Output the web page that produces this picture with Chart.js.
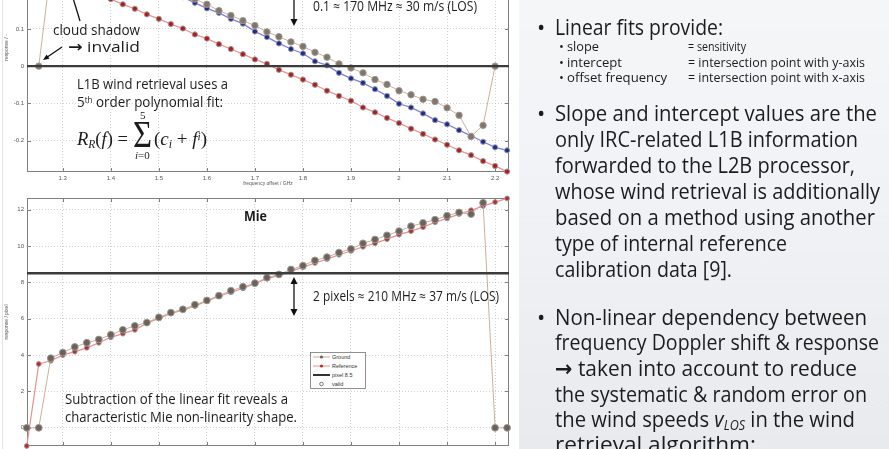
<!DOCTYPE html>
<html><head><meta charset="utf-8">
<script src="https://cdn.jsdelivr.net/npm/chart.js@4.4.1/dist/chart.umd.min.js"></script>
<style>
html,body{margin:0;padding:0;}
body{width:889px;height:449px;overflow:hidden;position:relative;background:#fff;font-family:'Open Sans',sans-serif;color:#1c1c1c;}
.t{position:absolute;white-space:nowrap;line-height:1;transform-origin:0 0;}
.t sup{font-size:0.6em;vertical-align:0.45em;line-height:0;}
.t sub{font-size:0.62em;vertical-align:-0.25em;line-height:0;}
.ar{font-family:'DejaVu Sans',sans-serif;font-weight:bold;}
#panel{position:absolute;left:519px;top:0;width:370px;height:449px;background:linear-gradient(180deg,#f5f6f8 0%,#f1f2f5 45%,#e9eaed 100%);}
canvas{position:absolute;left:0;}
svg{position:absolute;left:0;top:0;}
</style></head><body>
<div id="panel"></div>
<div style="position:absolute;left:2px;top:0;width:1px;height:449px;background:#e4e4e4"></div>
<canvas id="c1" width="514" height="272" style="top:-82px"></canvas>
<canvas id="c2" width="514" height="271" style="top:193px"></canvas>
<svg width="889" height="449">
  <g stroke="#111" stroke-width="1.3" fill="none">
    <line x1="294" y1="-2" x2="294" y2="21"/>
    <line x1="294" y1="281" x2="294" y2="312"/>
    <line x1="73" y1="-2" x2="80" y2="21"/>
    <line x1="62" y1="47" x2="47" y2="57.3"/>
  </g>
  <g fill="#111">
    <polygon points="290.5,19 297.5,19 294,26"/>
    <polygon points="290.5,284 297.5,284 294,277"/>
    <polygon points="290.5,309 297.5,309 294,316"/>
    <polygon points="43,60 49.4,58.7 46.6,54.5"/>
  </g>
  <g font-family="Liberation Sans, sans-serif" font-size="5.5" fill="#333">
    <rect x="310.5" y="352.5" width="55" height="36" fill="#fff" stroke="#777" stroke-width="0.8"/>
    <line x1="313" y1="357" x2="330" y2="357" stroke="#c9ad94" stroke-width="1"/>
    <circle cx="321.5" cy="357" r="1.6" fill="#6e6258"/>
    <text x="332" y="359">Ground</text>
    <line x1="313" y1="366" x2="330" y2="366" stroke="#e69090" stroke-width="1"/>
    <circle cx="321.5" cy="366" r="1.6" fill="#c0282a"/>
    <text x="332" y="368">Reference</text>
    <line x1="313" y1="375" x2="330" y2="375" stroke="#333" stroke-width="2"/>
    <text x="332" y="377">pixel 8.5</text>
    <circle cx="321.5" cy="384" r="1.8" fill="none" stroke="#555" stroke-width="0.8"/>
    <text x="332" y="386">valid</text>
  </g>
</svg>
<div id="txt"></div>
<script>
// ---------------- data ----------------
const xTicks = [1.3, 1.4, 1.5, 1.6, 1.7, 1.8, 1.9, 2.0, 2.1, 2.2];
const rayYTicks = [-0.2, -0.1, 0, 0.1, 0.2, 0.3];
const mieYTicks = [0, 2, 4, 6, 8, 10, 12];

const rayFreqGround = [1.25,1.275,1.3,1.325,1.35,1.375,1.4,1.425,1.45,1.475,1.5,1.525,1.55,1.575,1.6,1.625,1.65,1.675,1.7,1.725,1.75,1.775,1.8,1.825,1.85,1.875,1.9,1.925,1.95,1.975,2.0,2.025,2.05,2.075,2.1,2.125,2.15,2.175,2.2];
const rayGround = [0,0.26,0.33,0.32,0.305,0.29,0.28,0.265,0.25,0.24,0.225,0.21,0.195,0.18,0.166,0.149,0.136,0.122,0.109,0.092,0.079,0.065,0.053,0.037,0.024,0.006,-0.005,-0.018,-0.036,-0.049,-0.066,-0.077,-0.089,-0.095,-0.112,-0.132,-0.189,-0.159,0];

const rayFreqBlue = [1.55,1.575,1.6,1.625,1.65,1.675,1.7,1.725,1.75,1.775,1.8,1.825,1.85,1.875,1.9,1.925,1.95,1.975,2.0,2.025,2.05,2.075,2.1,2.125,2.15,2.175,2.2,2.225];
const rayBlue = [0.185,0.170,0.155,0.143,0.127,0.114,0.093,0.078,0.061,0.046,0.034,0.013,0.002,-0.018,-0.033,-0.045,-0.062,-0.080,-0.101,-0.111,-0.127,-0.145,-0.156,-0.172,-0.187,-0.203,-0.218,-0.226];

const rayFreqRef = [1.375,1.4,1.425,1.45,1.475,1.5,1.525,1.55,1.575,1.6,1.625,1.65,1.675,1.7,1.725,1.75,1.775,1.8,1.825,1.85,1.875,1.9,1.925,1.95,1.975,2.0,2.025,2.05,2.075,2.1,2.125,2.15,2.175,2.2,2.225];
const rayRef = [0.195,0.180,0.166,0.154,0.139,0.127,0.113,0.101,0.085,0.074,0.059,0.046,0.032,0.018,0.006,-0.010,-0.023,-0.036,-0.050,-0.066,-0.080,-0.093,-0.111,-0.124,-0.139,-0.153,-0.168,-0.182,-0.197,-0.211,-0.226,-0.239,-0.255,-0.268,-0.283];

const mieFreq = [1.225,1.25,1.275,1.3,1.325,1.35,1.375,1.4,1.425,1.45,1.475,1.5,1.525,1.55,1.575,1.6,1.625,1.65,1.675,1.7,1.725,1.75,1.775,1.8,1.825,1.85,1.875,1.9,1.925,1.95,1.975,2.0,2.025,2.05,2.075,2.1,2.125,2.15,2.175,2.2,2.225];
const mieGround = [0,0,3.83,4.14,4.45,4.68,4.86,5.12,5.39,5.61,5.79,6.08,6.34,6.52,6.77,7.01,7.27,7.54,7.76,7.96,8.26,8.44,8.71,8.92,9.21,9.39,9.64,9.84,10.15,10.36,10.59,10.82,11.09,11.27,11.45,11.67,11.85,11.76,12.38,0,0];
const mieRef = [-1.0,3.51,3.69,4.0,4.19,4.4,4.68,4.98,5.18,5.39,5.75,6.02,6.29,6.47,6.70,6.97,7.24,7.46,7.67,7.94,8.21,8.39,8.62,8.83,9.07,9.28,9.52,9.73,9.96,10.15,10.38,10.63,10.82,11.04,11.31,11.52,11.76,11.97,12.2,12.42,12.62];

const rayPixelLine = 0;
const miePixelLine = 8.5;

// ---------------- charts ----------------
const pts = (xs, ys) => xs.map((x, i) => ({x, y: ys[i]}));
const lbl = v => String(Math.round(v * 10) / 10);

const framePlugin = {
  id: 'frame',
  beforeDatasetsDraw(chart) {
    const {ctx, chartArea: a, scales: {x, y}} = chart;
    ctx.save();
    ctx.strokeStyle = '#808080'; ctx.lineWidth = 1;
    ctx.beginPath();
    x.ticks.forEach(t => {
      const px = Math.round(x.getPixelForValue(t.value)) + 0.5;
      ctx.moveTo(px, a.bottom); ctx.lineTo(px, a.bottom - 4);
      ctx.moveTo(px, a.top); ctx.lineTo(px, a.top + 4);
    });
    y.ticks.forEach(t => {
      const py = Math.round(y.getPixelForValue(t.value)) + 0.5;
      ctx.moveTo(a.left, py); ctx.lineTo(a.left + 4, py);
      ctx.moveTo(a.right, py); ctx.lineTo(a.right - 4, py);
    });
    ctx.stroke();
    ctx.strokeRect(Math.round(a.left) + 0.5, Math.round(a.top) + 0.5, Math.round(a.right - a.left) - 1, Math.round(a.bottom - a.top) - 1);
    ctx.restore();
  }
};

function makeOptions(ymin, ymax, yTicks, yTitle) {
  const font = {family: 'Liberation Sans, sans-serif', size: 6};
  return {
    responsive: false, animation: false, devicePixelRatio: 1, events: [],
    layout: {padding: {left: 0, right: 2, top: 0, bottom: 0}},
    plugins: {legend: {display: false}, tooltip: {enabled: false}},
    scales: {
      x: {
        type: 'linear', min: 1.2255, max: 2.22895,
        afterBuildTicks: s => { s.ticks = xTicks.map(v => ({value: v})); },
        afterFit: s => { s.height = 18; s.paddingLeft = 0; s.paddingRight = 0; },
        ticks: {font, color: '#555', padding: 3, maxRotation: 0, autoSkip: false, callback: v => lbl(v)},
        grid: {color: '#c4c4c4', lineWidth: 0.8, drawTicks: false},
        border: {display: false, dash: [1, 2]},
        title: {display: true, text: 'frequency offset / GHz', font: {family: 'Liberation Sans, sans-serif', size: 5}, color: '#555', padding: {top: 0, bottom: 3}}
      },
      y: {
        type: 'linear', min: ymin, max: ymax,
        afterBuildTicks: s => { s.ticks = yTicks.map(v => ({value: v})); },
        afterFit: s => { s.width = 27; s.paddingTop = 0; s.paddingBottom = 0; },
        ticks: {font, color: '#555', padding: 3, autoSkip: false, callback: v => lbl(v)},
        grid: {color: '#c4c4c4', lineWidth: 0.8, drawTicks: false},
        border: {display: false, dash: [1, 2]},
        title: {display: true, text: yTitle, font: {family: 'Liberation Sans, sans-serif', size: 5}, color: '#555', padding: {top: 4, bottom: 0}}
      }
    }
  };
}

const series = (data, line, fill, r, w) => ({
  data, showLine: true, borderColor: line, borderWidth: w, pointRadius: r,
  pointBackgroundColor: fill, pointBorderColor: '#9a9a9a', pointBorderWidth: 1, clip: 6
});
const hline = v => ({
  data: [{x: 1.0, y: v}, {x: 2.5, y: v}], showLine: true, borderColor: '#3b3b3b',
  borderWidth: 2.4, pointRadius: 0, clip: 0
});

new Chart(document.getElementById('c1'), {
  type: 'scatter',
  data: {datasets: [
    hline(rayPixelLine),
    series(pts(rayFreqGround, rayGround), '#cbb09a', '#857568', 3.2, 1),
    series(pts(rayFreqBlue, rayBlue), '#7f7fd8', '#1c2a98', 2.6, 1.3),
    series(pts(rayFreqRef, rayRef), '#e79595', '#b21c1c', 2.6, 1.3)
  ]},
  options: makeOptions(-0.28421, 0.38421, rayYTicks, 'response / -'),
  plugins: [framePlugin]
});

new Chart(document.getElementById('c2'), {
  type: 'scatter',
  data: {datasets: [
    hline(miePixelLine),
    series(pts(mieFreq, mieGround), '#cbb09a', '#6e6258', 3.4, 1),
    series(pts(mieFreq, mieRef), '#e69090', '#c0282a', 2.4, 1.2)
  ]},
  options: makeOptions(-1.0, 12.644, mieYTicks, 'response / pixel'),
  plugins: [framePlugin]
});

// ---------------- text ----------------
const host = document.getElementById('txt');
function addText(html, x, cy, fs, w, opt = {}) {
  const el = document.createElement('div');
  el.className = 't';
  el.innerHTML = html;
  el.style.left = x + 'px';
  el.style.fontSize = fs + 'px';
  el.style.top = (cy - 0.62 * fs) + 'px';
  if (opt.family) el.style.fontFamily = opt.family;
  if (opt.weight) el.style.fontWeight = opt.weight;
  host.appendChild(el);
  if (w) el.style.transform = `scaleX(${w / el.getBoundingClientRect().width})`;
  return el;
}

// left annotations
addText('cloud shadow', 53, 31, 15, 87);
addText('<span class="ar">→</span> invalid', 68, 48, 15, 72);
addText('L1B wind retrieval uses a', 77, 85, 15, 151);
addText('5<sup>th</sup> order polynomial fit:', 77, 103, 15, 146);
addText('0.1 ≈ 170 MHz ≈ 30 m/s (LOS)', 313, 8, 14, 164);
addText('2 pixels ≈ 210 MHz ≈ 37 m/s (LOS)', 313, 298, 14, 186);
addText('Subtraction of the linear fit reveals a', 65, 400, 15, 223);
addText('characteristic Mie non-linearity shape.', 65, 418, 15, 232);
addText('Mie', 244, 217, 15, 23, {weight: 700});

// formula
const serif = "'Liberation Serif', 'DejaVu Serif', serif";
addText('<i>R</i><sub><i>R</i></sub>(<i>f</i>) =', 77, 141, 19, 51, {family: serif});
const sig = addText('Σ', 133, 138, 38, 19, {family: serif});
sig.style.top = '115px';
addText('5', 140, 117, 11, 0, {family: serif});
addText('<i>i</i>=0', 135, 157, 11, 0, {family: serif});
addText('(<i>c<sub>i</sub></i> + <i>f<sup>i</sup></i>)', 154, 141, 19, 53, {family: serif});

// right panel
[29, 115, 319].forEach(cy => addText('•', 537, cy, 22, 0));
addText('Linear fits provide:', 555, 29, 22, 168);
addText('Slope and intercept values are the', 555, 115, 22, 322);
addText('only IRC-related L1B information', 555, 141, 22, 303);
addText('forwarded to the L2B processor,', 555, 167, 22, 300);
addText('whose wind retrieval is additionally', 555, 193, 22, 325);
addText('based on a method using another', 555, 219, 22, 320);
addText('type of internal reference', 555, 245, 22, 232);
addText('calibration data [9].', 555, 271, 22, 177);
addText('Non-linear dependency between', 555, 319, 22, 312);
addText('frequency Doppler shift &amp; response', 555, 344, 22, 324);
addText('<span class="ar">→</span> taken into account to reduce', 555, 370, 22, 302);
addText('the systematic &amp; random error on', 555, 396, 22, 312);
addText('the wind speeds <i>v</i><sub><i>LOS</i></sub> in the wind', 555, 421, 22, 300);
addText('retrieval algorithm:', 555, 446, 22, 201);

[48, 64, 79].forEach(cy => addText('•', 559, cy, 13, 0));
addText('slope', 567, 48, 13.5, 32);
addText('intercept', 567, 64, 13.5, 55);
addText('offset frequency', 567, 79, 13.5, 100);
addText('= sensitivity', 688, 48, 13.5, 58);
addText('= intersection point with y-axis', 688, 64, 13.5, 177);
addText('= intersection point with x-axis', 688, 79, 13.5, 177);
</script>
</body></html>
